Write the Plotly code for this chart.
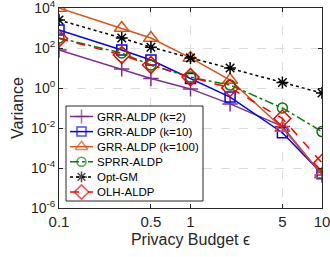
import plotly.graph_objects as go

eps = [0.1, 0.3, 0.5, 1, 2, 5, 10]
grr_k2 = [80, 9, 3, 0.9, 0.16, 0.012, 4.5e-5]
grr_k10 = [800, 80, 25, 3, 0.35, 0.0058, 5.2e-5]
grr_k100 = [1e4, 1000, 316, 32, 2.5, 0.01, 4.8e-5]
sprr = [316, 56, 14, 3.5, 1.4, 0.1, 0.0066]
opt_gm = [2500, 316, 110, 32, 10, 1.9, 0.56]
olh = [300, 45, 14, 3.5, 1.0, 0.03, 1.8e-4]

x_ticks = [0.1, 0.5, 1, 5, 10]
x_ticktext = ["0.1", "0.5", "1", "5", "10"]
y_ticks = [1e-6, 1e-4, 1e-2, 1, 1e2, 1e4]
y_ticktext = ["10<sup>-6</sup>", "10<sup>-4</sup>", "10<sup>-2</sup>", "10<sup>0</sup>",
              "10<sup>2</sup>", "10<sup>4</sup>"]

series = [
    ("GRR-ALDP (k=2)", grr_k2, "#7E2F8E", "solid", "cross-thin-open", 11, 10),
    ("GRR-ALDP (k=10)", grr_k10, "#0000FF", "solid", "square-open", 10, 9),
    ("GRR-ALDP (k=100)", grr_k100, "#D95319", "solid", "triangle-up-open", 13, 11),
    ("SPRR-ALDP", sprr, "#008000", "dashdot", "circle-open", 10, 9),
    ("Opt-GM", opt_gm, "#000000", "dot", "asterisk-open", 10, 9),
    ("OLH-ALDP", olh, "#FF0000", "dash", "diamond-open", 13, 11),
]

W, H = 330, 257
L, R, T, B = 59, 8, 8, 49

fig = go.Figure()
for name, ys, color, dash, sym, size, lsize in series:
    fig.add_trace(go.Scatter(
        x=eps, y=ys, name=name, mode="lines+markers",
        line=dict(color=color, width=1.5, dash=dash),
        marker=dict(symbol=sym, size=size, color=color,
                    line=dict(color=color, width=1.5)),
        showlegend=False,
    ))

# custom compact legend drawn on an overlay axis measured in pixels
lx0, lx1, ly0, ly1 = 66, 203, 106, 201
fig.add_trace(go.Scatter(
    x=[lx0, lx1, lx1, lx0, lx0], y=[ly0, ly0, ly1, ly1, ly0],
    mode="lines", fill="toself", fillcolor="white",
    line=dict(color="#262626", width=1),
    xaxis="x2", yaxis="y2", showlegend=False, hoverinfo="skip",
))
row0, row_h = 116.5, 15.1
annotations = []
for i, (name, ys, color, dash, sym, size, lsize) in enumerate(series):
    yy = row0 + i * row_h
    fig.add_trace(go.Scatter(
        x=[70, 81.5, 93], y=[yy, yy, yy], mode="lines+markers",
        line=dict(color=color, width=1.5, dash=dash),
        marker=dict(symbol=sym, size=[0, lsize, 0], color=color,
                    line=dict(color=color, width=1.5)),
        xaxis="x2", yaxis="y2", showlegend=False, hoverinfo="skip",
    ))
    annotations.append(dict(
        x=95, y=yy, xref="x2", yref="y2", text=name, showarrow=False,
        xanchor="left", yanchor="middle",
        font=dict(size=11.5, color="#000000"),
    ))

font = "Liberation Sans, Arial, Helvetica, sans-serif"
fig.update_layout(
    width=W, height=H,
    margin=dict(l=L, r=R, t=T, b=B, autoexpand=False),
    paper_bgcolor="white", plot_bgcolor="white",
    font=dict(family=font, size=12, color="#262626"),
    showlegend=False,
    annotations=annotations,
    xaxis=dict(
        type="log", range=[-1, 1],
        tickvals=x_ticks, ticktext=x_ticktext,
        ticks="inside", ticklen=4, tickcolor="#262626",
        showline=True, linecolor="#262626", linewidth=1, mirror="ticks",
        showgrid=True, gridcolor="#DDDDDD", griddash="dash", gridwidth=1,
        zeroline=False, automargin=False, ticklabeloverflow="allow",
        tickfont=dict(size=15),
        title=dict(text="Privacy Budget \u03f5", font=dict(size=16), standoff=4),
    ),
    yaxis=dict(
        type="log", range=[-6, 4],
        tickvals=y_ticks, ticktext=y_ticktext,
        ticks="inside", ticklen=4, tickcolor="#262626",
        showline=True, linecolor="#262626", linewidth=1, mirror="ticks",
        showgrid=True, gridcolor="#DDDDDD", griddash="dash", gridwidth=1,
        zeroline=False, automargin=False, ticklabeloverflow="allow",
        tickfont=dict(size=14),
        title=dict(text="Variance", font=dict(size=16), standoff=3),
    ),
    xaxis2=dict(overlaying="x", range=[L, W - R], visible=False, fixedrange=True),
    yaxis2=dict(overlaying="y", range=[H - B, T], visible=False, fixedrange=True),
)

fig.write_html(
    "out.html",
    config={"displayModeBar": False},
    post_script="document.body.style.margin='0';document.body.style.overflow='hidden';",
)
